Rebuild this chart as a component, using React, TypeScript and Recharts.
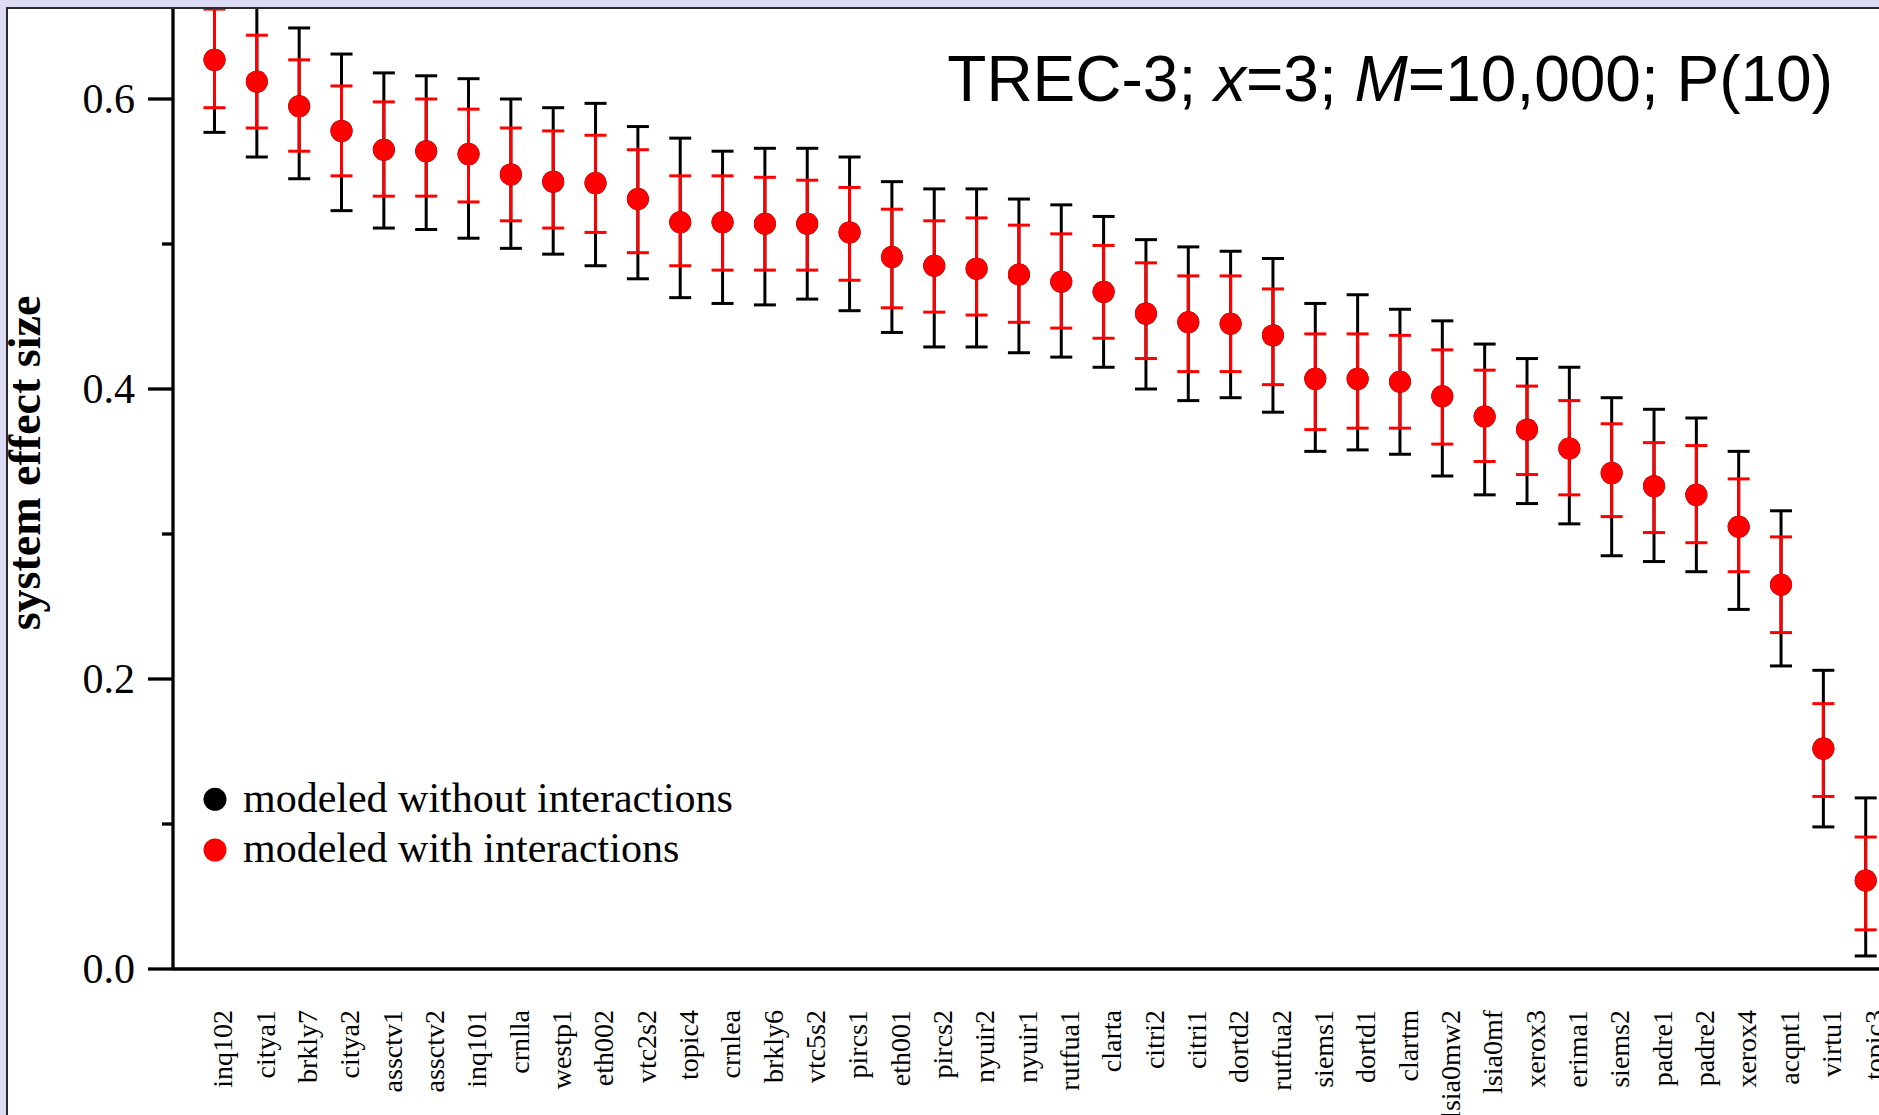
import React from 'react';
import { ComposedChart, Scatter, ErrorBar, XAxis, YAxis, Legend } from 'recharts';

// TREC-3 runs, ordered by effect size (with interactions)
const runs = [
  'inq102', 'citya1', 'brkly7', 'citya2', 'assctv1', 'assctv2', 'inq101', 'crnlla', 'westp1', 'eth002',
  'vtc2s2', 'topic4', 'crnlea', 'brkly6', 'vtc5s2', 'pircs1', 'eth001', 'pircs2', 'nyuir2', 'nyuir1',
  'rutfua1', 'clarta', 'citri2', 'citri1', 'dortd2', 'rutfua2', 'siems1', 'dortd1', 'clartm', 'lsia0mw2',
  'lsia0mf', 'xerox3', 'erima1', 'siems2', 'padre1', 'padre2', 'xerox4', 'acqnt1', 'virtu1', 'topic3',
];

// modeled with interactions: estimate and interval
const withEffect = [
  0.627, 0.612, 0.595, 0.578, 0.565, 0.564, 0.562, 0.548, 0.543, 0.542,
  0.531, 0.515, 0.515, 0.514, 0.514, 0.508, 0.491, 0.485, 0.483, 0.479,
  0.474, 0.467, 0.452, 0.446, 0.445, 0.437, 0.407, 0.407, 0.405, 0.395,
  0.381, 0.372, 0.359, 0.342, 0.333, 0.327, 0.305, 0.265, 0.152, 0.061,
];
const withLow = [
  0.594, 0.580, 0.564, 0.547, 0.533, 0.533, 0.529, 0.516, 0.511, 0.508,
  0.494, 0.485, 0.482, 0.482, 0.482, 0.475, 0.456, 0.453, 0.451, 0.446,
  0.442, 0.435, 0.421, 0.412, 0.412, 0.403, 0.372, 0.373, 0.373, 0.362,
  0.350, 0.341, 0.327, 0.312, 0.301, 0.294, 0.274, 0.232, 0.119, 0.027,
];
const withHigh = [
  0.662, 0.644, 0.627, 0.609, 0.598, 0.600, 0.593, 0.580, 0.578, 0.575,
  0.565, 0.547, 0.547, 0.546, 0.544, 0.539, 0.524, 0.516, 0.518, 0.513,
  0.507, 0.499, 0.487, 0.478, 0.478, 0.469, 0.438, 0.438, 0.437, 0.427,
  0.413, 0.402, 0.392, 0.376, 0.363, 0.361, 0.338, 0.298, 0.183, 0.091,
];

// modeled without interactions: same estimate, wider interval
const withoutEffect = [
  0.627, 0.612, 0.595, 0.578, 0.565, 0.564, 0.562, 0.548, 0.543, 0.542,
  0.531, 0.515, 0.515, 0.514, 0.514, 0.508, 0.491, 0.485, 0.483, 0.479,
  0.474, 0.467, 0.452, 0.446, 0.445, 0.437, 0.407, 0.407, 0.405, 0.395,
  0.381, 0.372, 0.359, 0.342, 0.333, 0.327, 0.305, 0.265, 0.152, 0.061,
];
const withoutLow = [
  0.577, 0.560, 0.545, 0.523, 0.511, 0.510, 0.504, 0.497, 0.493, 0.485,
  0.476, 0.463, 0.459, 0.458, 0.462, 0.454, 0.439, 0.429, 0.429, 0.425,
  0.422, 0.415, 0.400, 0.392, 0.394, 0.384, 0.357, 0.358, 0.355, 0.340,
  0.327, 0.321, 0.307, 0.285, 0.281, 0.274, 0.248, 0.209, 0.098, 0.009,
];
const withoutHigh = [
  0.678, 0.665, 0.649, 0.631, 0.618, 0.616, 0.614, 0.600, 0.594, 0.597,
  0.581, 0.573, 0.564, 0.566, 0.566, 0.560, 0.543, 0.538, 0.538, 0.531,
  0.527, 0.519, 0.503, 0.498, 0.495, 0.490, 0.459, 0.465, 0.455, 0.447,
  0.431, 0.421, 0.415, 0.394, 0.386, 0.380, 0.357, 0.316, 0.206, 0.118,
];

const yTicks = [0, 0.1, 0.2, 0.3, 0.4, 0.5, 0.6, 0.7];
const yMajor = [0, 0.2, 0.4, 0.6];

const seriesNames = ['modeled without interactions', 'modeled with interactions'];

const SERIF = '"Liberation Serif", "Times New Roman", serif';
const SANS = '"Liberation Sans", Arial, sans-serif';

const toRows = (effect: number[], low: number[], high: number[]) =>
  effect.map((v, i) => ({ idx: i, value: v, err: [v - low[i], high[i] - v] }));

const withoutRows = toRows(withoutEffect, withoutLow, withoutHigh);
const withRows = toRows(withEffect, withLow, withHigh);

const ValueTick = ({ x, y, payload }: any) => {
  const major = yMajor.includes(payload.value);
  return (
    <g>
      <line x1={x - (major ? 25 : 11)} x2={x} y1={y} y2={y} stroke="#000" strokeWidth={3.3} />
      {major && (
        <text x={x - 38} y={y} textAnchor="end" dominantBaseline="central" fontFamily={SERIF} fontSize={42} fill="#000">
          {payload.value.toFixed(1)}
        </text>
      )}
    </g>
  );
};

const RunTick = ({ x, y, payload }: any) => {
  const ty = y + 41;
  return (
    <text
      x={x}
      y={ty}
      dy={17.8}
      transform={`rotate(-90 ${x} ${ty})`}
      textAnchor="end"
      fontFamily={SERIF}
      fontSize={28}
      fill="#000"
    >
      {runs[payload.value]}
    </text>
  );
};

const LegendBox = ({ payload }: any) => {
  const items = [...(payload || [])].sort(
    (a: any, b: any) => seriesNames.indexOf(a.value) - seriesNames.indexOf(b.value),
  );
  return (
    <svg width={640} height={110}>
      {items.map((p: any, i: number) => (
        <g key={p.value}>
          <circle cx={15} cy={39.3 + i * 50.7} r={11.5} fill={p.color} />
          <text x={43} y={51.7 + i * 50} fontFamily={SERIF} fontSize={42} fill="#000">
            {p.value}
          </text>
        </g>
      ))}
    </svg>
  );
};

const dot = (fill: string) => (p: any) => <circle cx={p.cx} cy={p.cy} r={11} fill={fill} />;

export default function App() {
  return (
    <div style={{ position: 'absolute', left: 0, top: 0, width: 1879, height: 1115, overflow: 'hidden', background: '#fff' }}>
      <div style={{ position: 'absolute', left: 0, top: -200.6 }}>
        <ComposedChart width={1900} height={1320} margin={{ top: 10, right: 0, bottom: 0, left: 0 }}>
          <XAxis
            type="number"
            dataKey="idx"
            domain={[-0.98, 39.81]}
            ticks={runs.map((_, i) => i)}
            interval={0}
            allowDataOverflow
            height={150}
            tickLine={false}
            tickSize={0}
            tickMargin={0}
            axisLine={{ stroke: '#000', strokeWidth: 3.3 }}
            tick={RunTick}
          />
          <YAxis
            type="number"
            dataKey="value"
            domain={[0, 0.8]}
            ticks={yTicks}
            interval={0}
            allowDataOverflow
            width={173}
            tickLine={false}
            tickSize={0}
            tickMargin={0}
            axisLine={{ stroke: '#000', strokeWidth: 3.3 }}
            tick={ValueTick}
          />
          <Legend
            layout="vertical"
            align="center"
            verticalAlign="middle"
            content={LegendBox}
            wrapperStyle={{ position: 'absolute', left: 200, top: 960.6, width: 640, height: 110 }}
          />
          <Scatter
            name={seriesNames[0]}
            data={withoutRows}
            fill="#000000"
            shape={dot('#000000')}
            isAnimationActive={false}
          >
            <ErrorBar dataKey="err" direction="y" width={11} stroke="#000000" strokeWidth={3} isAnimationActive={false} />
          </Scatter>
          <Scatter
            name={seriesNames[1]}
            data={withRows}
            fill="#ff0000"
            shape={dot('#ff0000')}
            isAnimationActive={false}
          >
            <ErrorBar dataKey="err" direction="y" width={11} stroke="#ff0000" strokeWidth={3} isAnimationActive={false} />
          </Scatter>
        </ComposedChart>
      </div>

      <svg width={1879} height={1115} style={{ position: 'absolute', left: 0, top: 0, pointerEvents: 'none' }}>
        <text x={1833} y={101} textAnchor="end" fontFamily={SANS} fontSize={64} fill="#000">
          {'TREC-3; '}
          <tspan fontStyle="italic">x</tspan>
          {'=3; '}
          <tspan fontStyle="italic">M</tspan>
          {'=10,000; P(10)'}
        </text>
        <text
          transform="rotate(-90)"
          x={-463}
          y={40}
          textAnchor="middle"
          fontFamily={SERIF}
          fontWeight="bold"
          fontSize={46}
          fill="#000"
        >
          system effect size
        </text>
      </svg>

      {/* window frame round the plot */}
      <div style={{ position: 'absolute', left: 0, top: 0, width: 1879, height: 6.7, background: '#dddcf4' }} />
      <div style={{ position: 'absolute', left: 5.7, top: 6.7, width: 1874, height: 2, background: '#2a2a2a' }} />
      <div style={{ position: 'absolute', left: 0, top: 0, width: 5.7, height: 1115, background: '#dddcf4' }} />
      <div style={{ position: 'absolute', left: 5.7, top: 6.7, width: 2.3, height: 1109, background: '#2a2a2a' }} />
    </div>
  );
}
